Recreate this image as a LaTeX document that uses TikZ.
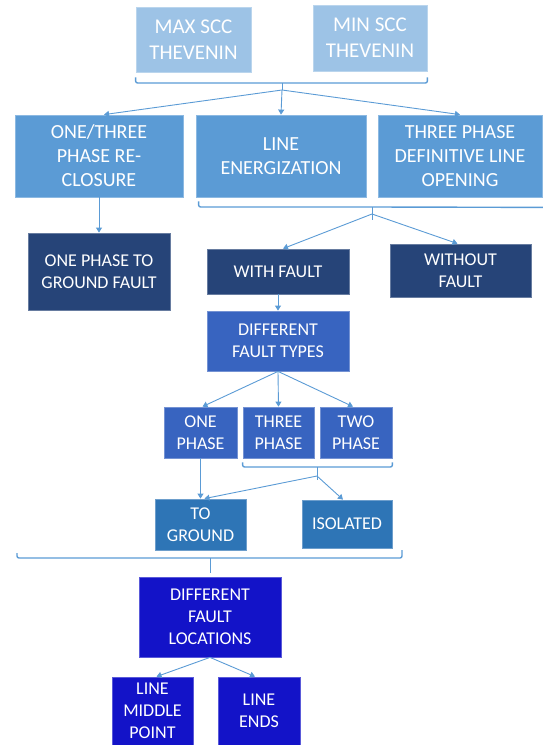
\documentclass[tikz,border=0pt]{standalone}
\usepackage{fontspec}
\setmainfont{Carlito}
\usetikzlibrary{arrows.meta}
\definecolor{pale}{HTML}{9DC3E6}
\definecolor{office}{HTML}{5B9BD5}
\definecolor{navy}{HTML}{264478}
\definecolor{royal}{HTML}{3864C0}
\definecolor{steel}{HTML}{2E75B6}
\definecolor{deep}{HTML}{1313C8}
\definecolor{linkblue}{HTML}{5B9BD5}
\begin{document}
\begin{tikzpicture}[x=1pt, y=-1pt,
    box/.style={draw=#1!70!white, fill=#1, text=white, align=center, inner sep=0pt, line width=0.8pt},
    link/.style={draw=linkblue, line width=0.9pt},
    arrow/.style={link, -{Triangle[width=6pt,length=5pt]}},
    brace/.style={draw=linkblue, line width=1.4pt, rounded corners=2pt},
    bigtext/.style={font=\fontsize{21}{26}\selectfont},
    midtext/.style={font=\fontsize{20}{24}\selectfont},
    smalltext/.style={font=\fontsize{18}{22}\selectfont}]
\useasboundingbox (0,0) rectangle (542,745);

\node[box=pale, bigtext, minimum width=115, minimum height=65] (maxscc) at (193.5,39.5) {MAX SCC\\THEVENIN};
  \node[box=pale, bigtext, minimum width=114, minimum height=66] (minscc) at (370,38) {MIN SCC\\THEVENIN};

\node[box=office, midtext, minimum width=168, minimum height=82] (reclos) at (99,156) {ONE/THREE\\PHASE RE-\\CLOSURE};
  \node[box=office, midtext, minimum width=170, minimum height=82] (energ) at (281,156) {LINE\\ENERGIZATION};
  \node[box=office, midtext, minimum width=164, minimum height=82] (opening) at (460,156) {THREE PHASE\\DEFINITIVE LINE\\OPENING};

\node[box=navy, smalltext, minimum width=142, minimum height=77] (pgfault) at (99,271.5) {ONE PHASE TO\\GROUND FAULT};
  \node[box=navy, smalltext, minimum width=142, minimum height=45] (withf) at (278,271.5) {WITH FAULT};
  \node[box=navy, smalltext, minimum width=141, minimum height=53] (withoutf) at (460.5,270.5) {WITHOUT\\FAULT};
  \node[box=royal, smalltext, minimum width=142, minimum height=60] (types) at (278,341) {DIFFERENT\\FAULT TYPES};

\node[box=royal, smalltext, minimum width=73, minimum height=51] (onep) at (200.5,432.5) {ONE\\PHASE};
  \node[box=royal, smalltext, minimum width=71, minimum height=51] (threep) at (278.5,432.5) {THREE\\PHASE};
  \node[box=royal, smalltext, minimum width=72, minimum height=51] (twop) at (356,432.5) {TWO\\PHASE};

\node[box=steel, smalltext, minimum width=91, minimum height=51] (toground) at (200.5,524.5) {TO\\GROUND};
  \node[box=steel, smalltext, minimum width=90, minimum height=48] (isolated) at (347,524) {ISOLATED};

\node[box=deep, smalltext, minimum width=142, minimum height=80] (locations) at (210,617) {DIFFERENT\\FAULT\\LOCATIONS};
  \node[box=deep, smalltext, minimum width=81, minimum height=68] (midpoint) at (152.5,711) {LINE\\MIDDLE\\POINT};
  \node[box=deep, smalltext, minimum width=82, minimum height=68] (lineends) at (259,711) {LINE\\ENDS};

\coordinate (brA) at (282,83);
  \coordinate (splitA) at (282,90);
  \coordinate (brB) at (372,207);
  \coordinate (splitB) at (372,214);
  \coordinate (stemB) at (372,220);
  \coordinate (brC) at (317,467);
  \coordinate (splitC) at (317,476);
  \coordinate (stemC) at (317,480);
  \coordinate (brDleft) at (17,553);
  \coordinate (brD) at (210,558);
  \coordinate (brDright) at (402,550);

\draw[brace] ([yshift=-5pt]maxscc.south west) |- (brA) -| ([yshift=-6pt]minscc.south east);
  \draw[link] (brA) -- (splitA);
  \draw[arrow] (splitA) -- ([xshift=5pt]reclos.north);
  \draw[arrow] (splitA) -- (energ.north);
  \draw[arrow] (splitA) -- (opening.north);

\draw[arrow] (reclos) -- (pgfault);

\draw[brace] ([xshift=3pt,yshift=-4pt]energ.south west) |- (brB) -- ([xshift=4pt,yshift=-10pt]opening.south east);
  \draw[link] (brB) -- (stemB);
  \draw[arrow] (splitB) -- ([xshift=5pt]withf.north);
  \draw[arrow] (splitB) -- ([xshift=-3pt]withoutf.north);

\draw[arrow] (withf) -- (types);
  \draw[arrow] (types.south) -- ([xshift=2pt]onep.north);
  \draw[arrow] (types.south) -- (threep.north);
  \draw[arrow] (types.south) -- ([xshift=-3pt]twop.north);

\draw[brace] ([yshift=-4pt]threep.south west) |- (brC) -| ([yshift=-4pt]twop.south east);
  \draw[link] (brC) -- (stemC);
  \draw[arrow] (splitC) -- ([xshift=4pt]toground.north);
  \draw[arrow] (splitC) -- ([xshift=-4pt]isolated.north);
  \draw[arrow] (onep) -- (toground);

\draw[brace] (brDleft) |- (brD) -| (brDright);
  \draw[link] (brD) -- ([yshift=4pt]locations.north);
  \draw[arrow] (locations.south) -- ([xshift=4pt]midpoint.north);
  \draw[arrow] (locations.south) -- ([xshift=-4pt]lineends.north);
\end{tikzpicture}
\end{document}
